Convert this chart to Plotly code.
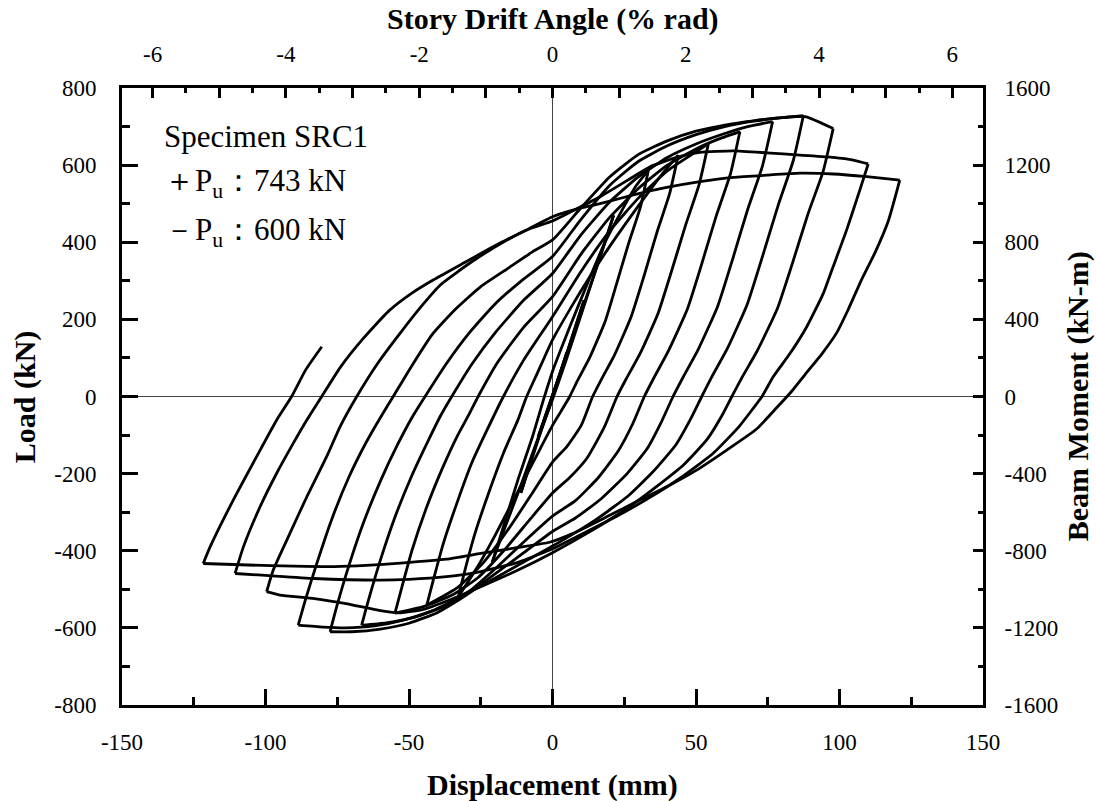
import plotly.graph_objects as go

# ---- hysteresis path, branch by branch: (displacement mm, load kN) ----
up01 = [(0, 0), (2.5, 58), (5, 115)]
dn01 = [(5, 115), (2.5, 55), (0, 2), (-2.5, -52), (-5, -105)]
up02 = [(-5, -105), (-2.5, -50), (0, 2), (5, 112), (11, 250)]
dn02 = [(11, 250), (8, 182), (4, 88), (0, -3), (-5, -112), (-11, -250)]
up03 = [(-11, -250), (-6, -132), (0, 4), (6, 132), (12, 262), (17, 370), (21.3, 470)]
dn03 = [(21.3, 470), (17, 372), (11, 235), (5, 100), (0, -8), (-6, -128), (-12, -250), (-17, -348), (-21, -430)]
up04 = [(-21, -430), (-17, -335), (-12, -215), (-7, -105), (-3, -5), (0, 65), (6, 180), (12, 290),
        (18, 395), (24, 480), (29, 545), (33.4, 587)]
dn04 = [(33.4, 587), (30.7, 493), (26.6, 399), (22.4, 294), (18.3, 194), (12.9, 100), (8.7, 41), (6, 0),
        (3, -38), (0, -75), (-6, -160), (-13, -260), (-20, -360), (-26, -440), (-32.8, -519)]
up05 = [(-32.8, -519), (-30.5, -450), (-27, -355), (-22, -245), (-17, -145), (-12, -60), (-9, 0), (-5, 65),
        (0, 147), (10, 275), (20, 390), (30, 495), (38, 575), (43.8, 626)]
dn05 = [(43.8, 626), (40.8, 526), (36.4, 426), (31.9, 313), (27.4, 207), (21.5, 106), (17, 44), (14, 0),
        (10, -75), (5, -130), (0, -170), (-7, -250), (-15, -340), (-24, -430), (-33, -495), (-43.8, -541)]
up06 = [(-43.8, -541), (-41.5, -475), (-38, -380), (-33, -270), (-28, -170), (-23, -90), (-17.1, 0), (-10, 95),
        (0, 207), (10, 325), (20, 430), (30, 515), (40, 585), (48, 625), (54.3, 655)]
dn06 = [(54.3, 655), (51.1, 550), (46.4, 445), (41.6, 328), (36.8, 216), (30.5, 111), (25.7, 46), (22.5, 0),
        (18, -80), (12, -160), (6, -210), (0, -250), (-8, -320), (-17, -400), (-26, -470), (-35, -515),
        (-45, -545), (-54.9, -562)]
up07 = [(-54.9, -562), (-52.5, -495), (-49, -400), (-44, -290), (-38, -180), (-33, -100), (-29, -45), (-25.9, 0),
        (-19, 90), (-10, 180), (0, 259), (10, 370), (20, 465), (30, 540), (40, 600), (50, 642), (58, 668),
        (65.3, 687)]
dn07 = [(65.3, 687), (62, 577), (57, 467), (52, 344), (47, 227), (40.3, 117), (35.3, 48), (32, 0),
        (28, -70), (23, -140), (16, -210), (8, -270), (0, -310), (-9, -370), (-19, -440), (-29, -505),
        (-38, -545), (-48, -572), (-58, -587), (-66.5, -593)]
up08 = [(-66.5, -593), (-64, -525), (-60, -425), (-55, -315), (-49, -205), (-43, -110), (-39, -50), (-35.1, 0),
        (-28, 85), (-20, 165), (-10, 250), (0, 319), (10, 420), (20, 505), (30, 570), (40, 620), (50, 655),
        (60, 682), (68, 700), (76.7, 713)]
dn08 = [(76.7, 713), (73.2, 599), (68, 485), (62.8, 357), (57.6, 235), (50.7, 121), (45.5, 50), (42, 0),
        (38, -65), (33, -135), (26, -200), (17, -265), (8, -315), (0, -350), (-10, -405), (-20, -460),
        (-30, -515), (-40, -560), (-50, -588), (-60, -603), (-70, -610), (-77.5, -610)]
up09 = [(-77.5, -610), (-75, -540), (-71, -440), (-66, -330), (-60, -220), (-54, -125), (-49, -55), (-44.4, 0),
        (-37, 85), (-29, 165), (-20, 240), (-10, 305), (0, 363), (10, 460), (20, 548), (30, 610), (40, 650),
        (50, 679), (60, 700), (70, 714), (80, 723), (87.4, 728)]
dn09 = [(87.4, 728), (83.9, 612), (78.6, 495), (73.2, 364), (67.9, 240), (60.9, 124), (55.5, 51), (52, 0),
        (48, -60), (43, -125), (35, -195), (26, -260), (15, -320), (3, -375), (-9, -425), (-21, -475),
        (-32, -520), (-42, -556), (-52, -580), (-62, -595), (-72, -600), (-80, -598), (-88.6, -593)]
up10 = [(-88.6, -593), (-86, -525), (-82, -430), (-77, -320), (-71, -210), (-65, -120), (-60, -55), (-55.5, 0),
        (-49, 80), (-42, 160), (-34, 225), (-25, 285), (-15, 335), (-7, 375), (0, 406), (10, 490), (20, 570),
        (30, 628), (40, 663), (50, 688), (60, 704), (70, 715), (80, 723), (88, 726), (97.8, 695)]
dn10 = [(97.8, 695), (94.3, 584), (89, 473), (83.7, 348), (78.4, 229), (71.3, 118), (66, 49), (62.5, 0),
        (59, -50), (54, -110), (46, -175), (36, -235), (25, -295), (12, -355), (0, -405), (-12, -450),
        (-24, -490), (-35, -525), (-45, -552), (-53, -561), (-60, -555), (-72, -537), (-83, -524),
        (-95, -515), (-99.6, -506)]
up11 = [(-99.6, -506), (-97.3, -450), (-91.5, -355), (-85.6, -260), (-78.7, -156), (-74, -78), (-68.2, 0),
        (-61, 85), (-53, 165), (-45, 240), (-39, 290), (-28, 350), (-16, 405), (-8, 435), (0, 455), (8, 485),
        (16.6, 518), (28.2, 570), (34, 596), (43.3, 620), (51.4, 633), (63, 637), (74.6, 632), (86.2, 626),
        (97.8, 620), (104.8, 613), (110, 603)]
dn11 = [(110, 603), (107.1, 536), (102.5, 432), (97.8, 337), (94.4, 268), (88.6, 181), (82.8, 112),
        (76.9, 51), (73, 0), (70, -30), (65, -78), (56, -147), (44.4, -212), (36.3, -251), (25, -300),
        (12, -350), (0, -395), (-12, -430), (-25, -454), (-37, -467), (-50, -474), (-60, -476), (-83, -472),
        (-100, -464), (-110.6, -459)]
up12 = [(-110.6, -459), (-107.7, -390), (-101.9, -286), (-96.1, -199), (-90.3, -121), (-85.6, -61),
        (-80.4, 0), (-74, 75), (-66, 150), (-57, 222), (-49, 268), (-41.6, 302), (-30, 350), (-18.3, 398),
        (-9, 432), (0, 466), (8, 485), (16.6, 500), (28.2, 523), (39.8, 542), (51.4, 557), (63, 568),
        (74.6, 574), (86.2, 579), (97.8, 577), (109.5, 570), (121, 561)]
dn12 = [(121, 561), (117, 455), (112.5, 375), (107.5, 300), (103, 225), (99, 165), (94, 112), (88, 57),
        (83.5, 15), (78, -30), (71, -85), (60.7, -139), (50.2, -191), (39.8, -234), (30.5, -268),
        (18.9, -312), (7.2, -355), (-1, -378), (-12.5, -392), (-25, -407), (-37, -422), (-53, -432),
        (-65, -438), (-76, -441), (-90, -440), (-106, -437), (-121.7, -433)]
final = [(-121.7, -433), (-119.3, -390), (-111.2, -268), (-103.1, -156), (-96.1, -61), (-90.9, 0),
         (-86, 69), (-80.4, 129)]

branches = [up01, dn01, up02, dn02, up03, dn03, up04, dn04, up05, dn05, up06, dn06,
            up07, dn07, up08, dn08, up09, dn09, up10, dn10, up11, dn11, up12, dn12, final]

# ---- axis definitions ----
disp_ticks = [-150, -100, -50, 0, 50, 100, 150]
load_ticks = [-800, -600, -400, -200, 0, 200, 400, 600, 800]
moment_ticks = [-1600, -1200, -800, -400, 0, 400, 800, 1200, 1600]
drift_label_ticks = [-6, -4, -2, 0, 2, 4, 6]
drift_odd_ticks = [-5, -3, -1, 1, 3, 5]
drift_range = 6.46          # % rad at +/-150 mm
moment_per_load = 2.0       # kN-m per kN

FONT = "Liberation Serif, Times New Roman, serif"


def labels(vals):
    return [str(v) for v in vals]   # plain hyphen minus as in the reference


fig = go.Figure()
for br in branches:
    fig.add_trace(go.Scatter(
        x=[p[0] for p in br], y=[p[1] for p in br], mode="lines",
        line=dict(color="black", width=2.8, shape="spline", smoothing=0.5),
        hoverinfo="skip", showlegend=False))

# invisible traces carrying the secondary (drift / moment) axes
for xa in ("x2", "x3"):
    fig.add_trace(go.Scatter(
        x=[p[0] * drift_range / 150 for p in final],
        y=[p[1] * moment_per_load for p in final],
        xaxis=xa, yaxis="y2", mode="lines",
        line=dict(color="rgba(0,0,0,0)", width=0), hoverinfo="skip", showlegend=False))

tick_font = dict(family=FONT, size=23, color="black")
base = dict(showline=True, linecolor="black", linewidth=3, mirror=False, showgrid=False,
            ticks="inside", tickcolor="black", tickwidth=2.5, tickfont=tick_font)

fig.update_layout(
    width=1096, height=801,
    margin=dict(l=122, r=113, t=88, b=96),
    paper_bgcolor="white", plot_bgcolor="white",
    font=dict(family=FONT, color="black"),
    xaxis=dict(range=[-150, 150], tickmode="array", tickvals=disp_ticks, ticktext=labels(disp_ticks),
               ticklen=16, zeroline=True, zerolinecolor="#444", zerolinewidth=1, ticklabelstandoff=14,
               minor=dict(dtick=25, ticks="inside", ticklen=8, tickwidth=2.5, tickcolor="black"),
               **base),
    yaxis=dict(range=[-800, 800], tickmode="array", tickvals=load_ticks, ticktext=labels(load_ticks),
               ticklen=16, zeroline=True, zerolinecolor="#444", zerolinewidth=1, ticklabelstandoff=18,
               minor=dict(dtick=100, ticks="inside", ticklen=8, tickwidth=2.5, tickcolor="black"),
               **base),
    xaxis2=dict(range=[-drift_range, drift_range], overlaying="x", side="top", anchor="y2",
                tickmode="array", tickvals=drift_label_ticks, ticktext=labels(drift_label_ticks),
                ticklen=10, zeroline=False, ticklabelstandoff=14,
                minor=dict(dtick=0.5, ticks="inside", ticklen=5, tickwidth=2.5, tickcolor="black"),
                **base),
    xaxis3=dict(range=[-drift_range, drift_range], overlaying="x", side="top", anchor="y2",
                tickmode="array", tickvals=drift_odd_ticks, ticks="inside", ticklen=10, tickwidth=2.5,
                tickcolor="black", showticklabels=False, showline=False, showgrid=False, zeroline=False),
    yaxis2=dict(range=[-1600, 1600], overlaying="y", side="right", anchor="x2",
                tickmode="array", tickvals=moment_ticks, ticktext=labels(moment_ticks),
                ticklen=10, zeroline=False, ticklabelstandoff=14,
                minor=dict(dtick=200, ticks="inside", ticklen=5, tickwidth=2.5, tickcolor="black"),
                **base),
)

title_font = dict(family=FONT, size=30, color="black")
fig.add_annotation(text="<b>Displacement (mm)</b>", xref="paper", yref="paper", x=0.5, y=-0.13,
                   xanchor="center", yanchor="middle", showarrow=False, font=title_font)
fig.add_annotation(text="<b>Story Drift Angle (% rad)</b>", xref="paper", yref="paper", x=0.5, y=1.112,
                   xanchor="center", yanchor="middle", showarrow=False, font=title_font)
fig.add_annotation(text="<b>Load (kN)</b>", xref="paper", yref="paper", x=-0.113, y=0.5,
                   xanchor="center", yanchor="middle", textangle=-90, showarrow=False, font=title_font)
fig.add_annotation(text="<b>Beam Moment (kN-m)</b>", xref="paper", yref="paper", x=1.11, y=0.5,
                   xanchor="center", yanchor="middle", textangle=-90, showarrow=False, font=title_font)

note_font = dict(family=FONT, size=31, color="black")
notes = ["Specimen SRC1", "＋P<sub>u</sub>：743 kN", "－P<sub>u</sub>：600 kN"]
note_y = [0.921, 0.846, 0.767]
for txt, yy in zip(notes, note_y):
    fig.add_annotation(text=txt, xref="paper", yref="paper", x=0.0465, y=yy,
                       xanchor="left", yanchor="middle", showarrow=False, font=note_font)

fig.write_html("out.html")
